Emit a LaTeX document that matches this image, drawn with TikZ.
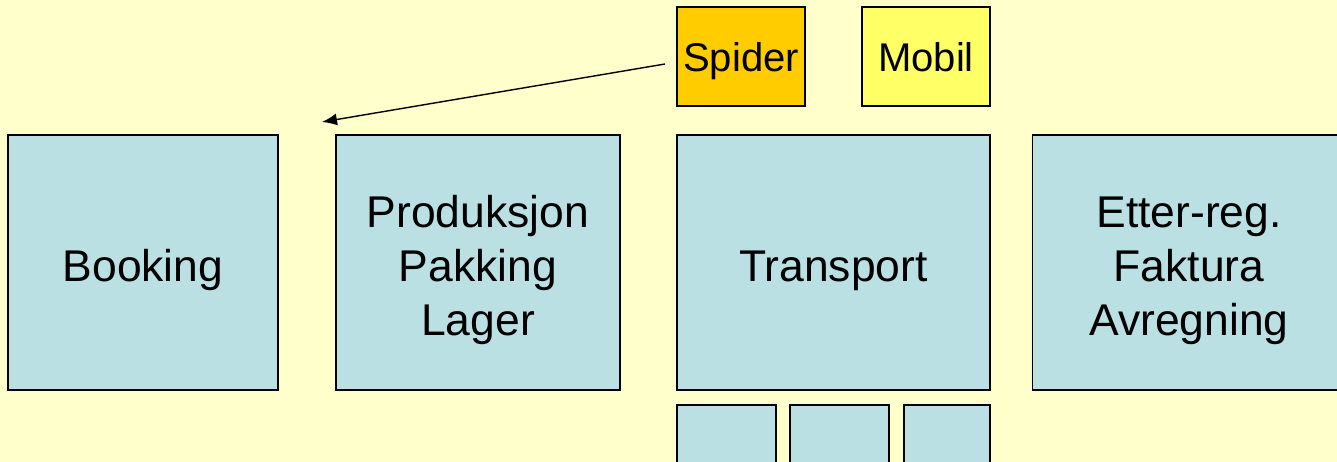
\documentclass[tikz,border=0pt]{standalone}
\usepackage{fontspec}
\setmainfont{Liberation Sans}
\usetikzlibrary{arrows.meta}

\definecolor{bgyellow}{HTML}{FFFFCC}
\definecolor{boxblue}{HTML}{BBE0E3}
\definecolor{spidergold}{HTML}{FFCC00}
\definecolor{mobilyellow}{HTML}{FFFF66}

% strut on the first line pushes the text a little down
\newcommand{\topstrut}{\rule{0pt}{0.93cm}}

\tikzset{
  stage/.style={draw=black, line width=0.8pt, fill=boxblue, align=center,
    minimum height=5.1cm, inner sep=0pt,
    font=\fontsize{25.3}{30.7}\selectfont},
  tool/.style={draw=black, line width=0.8pt, align=center,
    minimum width=2.56cm, minimum height=1.98cm, inner sep=0pt,
    text height=0.6cm, text depth=0cm,
    font=\fontsize{22.8}{27}\selectfont},
  sub/.style={draw=black, line width=0.8pt, fill=boxblue,
    minimum height=1.3cm, inner sep=0pt}
}

\begin{document}
\begin{tikzpicture}[x=0.02cm, y=-0.02cm]
        \fill[bgyellow] (0,0) rectangle (1337,462);
        \clip (0,0) rectangle (1337,462);

        % main stages
        \node[stage, minimum width=5.4cm] (booking) at (143,262.5) {\topstrut Booking};
        \node[stage, minimum width=5.68cm] (prod) at (478,262.5) {\topstrut Produksjon\\Pakking\\Lager};
        \node[stage, minimum width=6.26cm] (transport) at (833.5,262.5) {\topstrut Transport};
        \node[stage, minimum width=6.26cm] (etterreg) at (1189,262.5) {\topstrut Etter-reg.\\Faktura\\Avregning};

        % tools on top
        \node[tool, fill=spidergold] (spider) at (741,56.5) {Spider};
        \node[tool, fill=mobilyellow] (mobil) at (926,56.5) {Mobil};

        % small boxes under transport
        \node[sub, minimum width=1.98cm] (subA) at (726.5,437.5) {};
        \node[sub, minimum width=1.98cm] (subB) at (839.5,437.5) {};
        \node[sub, minimum width=1.72cm] (subC) at (947,437.5) {};

        \coordinate (src) at (665,64);
        \coordinate (tgt) at (322,122);
        \draw[-{Latex[length=0.3cm,width=0.24cm]}, line width=0.8pt] (src) -- (tgt);
    \end{tikzpicture}
\end{document}
